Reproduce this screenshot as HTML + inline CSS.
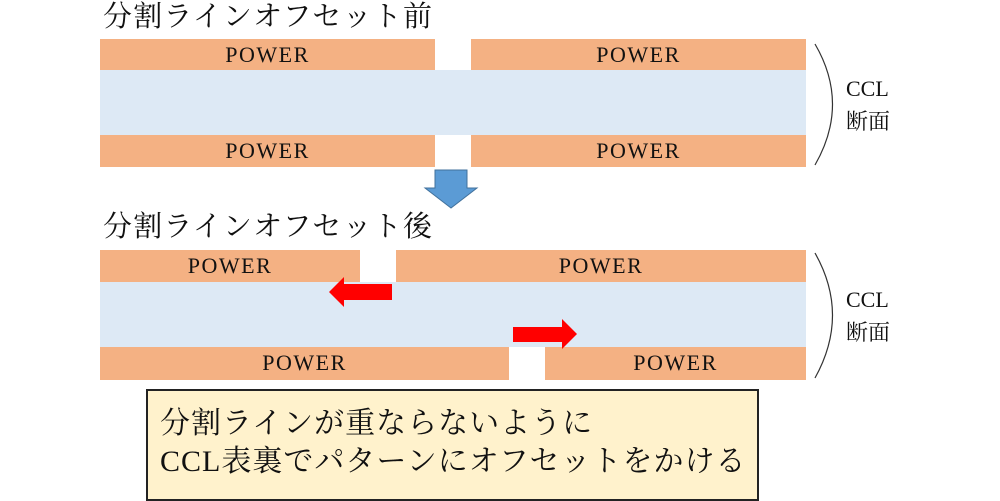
<!DOCTYPE html>
<html><head><meta charset="utf-8"><style>
html,body{margin:0;padding:0;background:#fff;width:1000px;height:501px;overflow:hidden;position:relative}
.a{position:absolute}
.cu{position:absolute;background:#f4b183;font-family:"Liberation Serif",serif;font-size:22px;letter-spacing:1.5px;color:#111;text-align:center;line-height:32px}
.bl{position:absolute;background:#dde9f5}
.t{position:absolute;font-family:"Liberation Serif","Noto Serif CJK SC","Noto Sans CJK JP",serif;color:#111;white-space:nowrap}
</style></head><body>
<div class="t" style="left:103px;top:0px;font-size:29px;line-height:34px;letter-spacing:1.2px">分割ラインオフセット前</div>
<div class="bl" style="left:100px;top:70px;width:706px;height:65px"></div>
<div class="cu" style="left:100px;top:39px;width:335px;height:31px">POWER</div>
<div class="cu" style="left:471px;top:39px;width:335px;height:31px">POWER</div>
<div class="cu" style="left:100px;top:135px;width:335px;height:32px">POWER</div>
<div class="cu" style="left:471px;top:135px;width:335px;height:32px">POWER</div>
<svg class="a" style="left:0;top:0" width="1000" height="501">
<polygon points="435,170 467,170 467,188 477,188 451,208 425,188 435,188" fill="#5b9bd5" stroke="#41719c" stroke-width="1"/>
<path d="M815,44 Q850,104 815,165" fill="none" stroke="#333" stroke-width="1.2"/>
<path d="M815,253 Q850,315 815,378" fill="none" stroke="#333" stroke-width="1.2"/>
</svg>
<div class="t" style="left:846px;top:72px;font-size:22px;line-height:33px">CCL<br>断面</div>
<div class="t" style="left:103px;top:210px;font-size:29px;line-height:34px;letter-spacing:1.2px">分割ラインオフセット後</div>
<div class="bl" style="left:100px;top:282px;width:706px;height:65px"></div>
<div class="cu" style="left:100px;top:250px;width:260px;height:32px">POWER</div>
<div class="cu" style="left:396px;top:250px;width:410px;height:32px">POWER</div>
<div class="cu" style="left:100px;top:347px;width:409px;height:33px">POWER</div>
<div class="cu" style="left:545px;top:347px;width:261px;height:33px">POWER</div>
<svg class="a" style="left:0;top:0" width="1000" height="501">
<polygon points="392,284 344,284 344,277 329,292 344,307 344,300 392,300" fill="#ff0000"/>
<polygon points="513,327 562,327 562,319 577,334 562,349 562,342 513,342" fill="#ff0000"/>
</svg>
<div class="t" style="left:846px;top:283px;font-size:22px;line-height:33px">CCL<br>断面</div>
<div class="a" style="left:146px;top:389px;width:609px;height:108px;background:#fff2cc;border:2px solid #222"></div>
<div class="t" style="left:160px;top:405px;font-size:30px;line-height:38px;letter-spacing:1px">分割ラインが重ならないように<br>CCL表裏でパターンにオフセットをかける</div>
</body></html>
